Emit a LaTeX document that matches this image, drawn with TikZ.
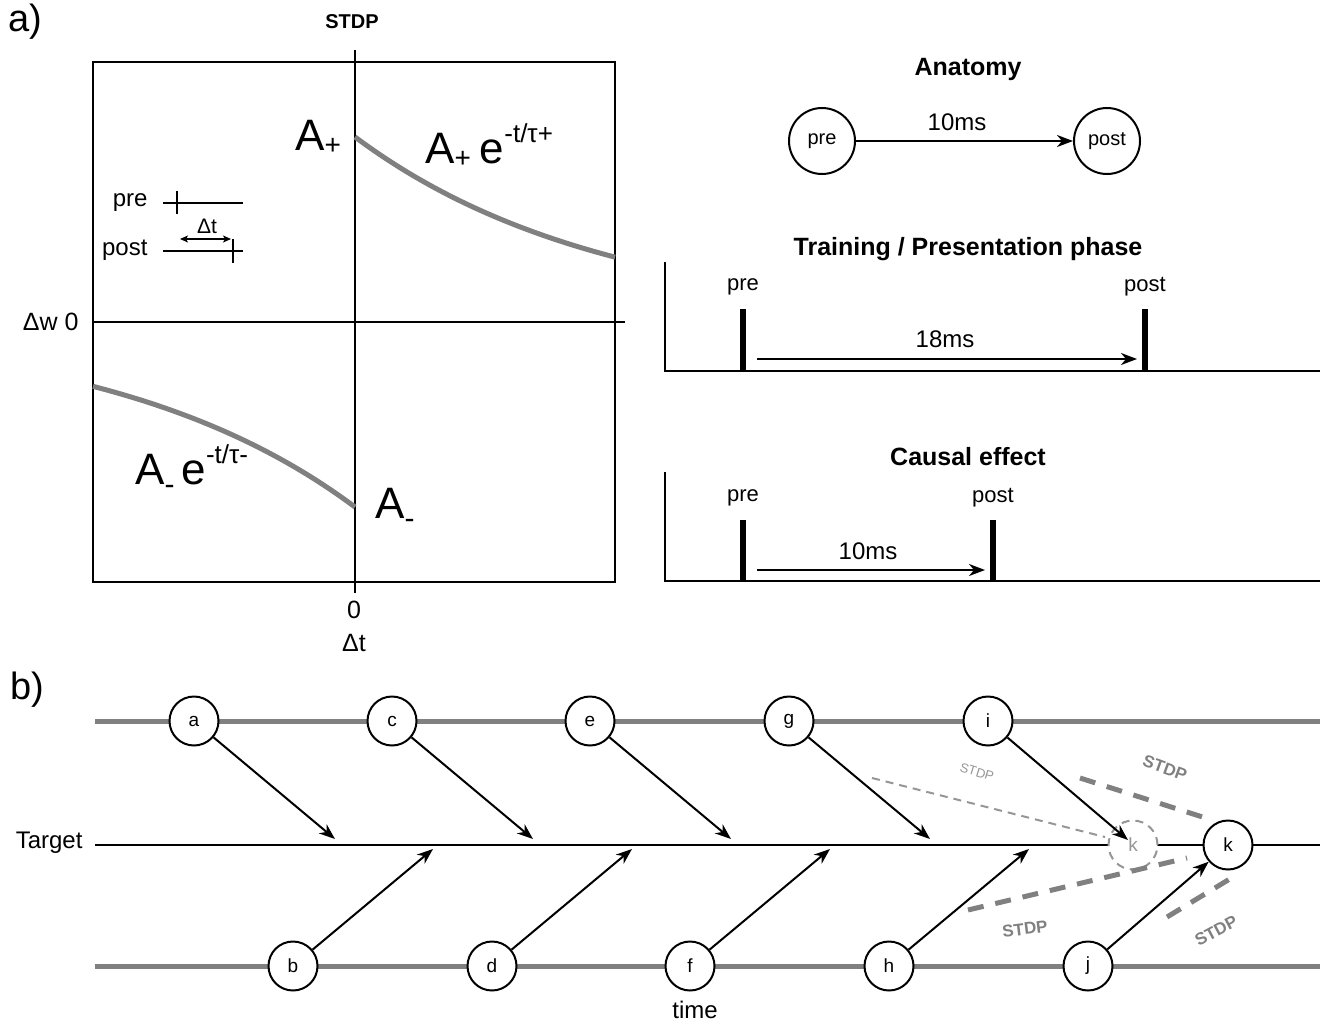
\documentclass[tikz,border=0pt]{standalone}
\usepackage{fontspec}
\setmainfont{Liberation Sans}
\usetikzlibrary{arrows.meta}
\newcommand\fsz[1]{\fontsize{#1}{#1}\selectfont}
\definecolor{gline}{RGB}{128,128,128}
\definecolor{glight}{RGB}{150,150,150}
\begin{document}
\begin{tikzpicture}[x=1pt,y=-1pt,
  axisline/.style={line width=2.2pt},
  gcurve/.style={line width=5pt,draw=gline},
  arr/.style={-{Stealth[length=16pt,width=12pt,inset=5pt]},line width=2pt},
  darr/.style={{Stealth[length=8pt,width=7pt,inset=2pt]}-{Stealth[length=8pt,width=7pt,inset=2pt]},line width=1.5pt},
  ttl/.style={font=\bfseries\fsz{25}},
  lbl/.style={font=\fsz{22}},
  neuron/.style={circle,draw,line width=2pt,minimum size=49pt,inner sep=0pt,fill=white,font=\fsz{19}},
  bigneuron/.style={circle,draw,line width=2pt,minimum size=66pt,inner sep=0pt,fill=white,font=\fsz{20}},
  bar/.style={line width=6pt},
  gthick/.style={line width=5pt,draw=gline},
  thickdash/.style={line width=5pt,draw=gline,dash pattern=on 16pt off 12pt},
  thindash/.style={line width=2pt,draw=glight,dash pattern=on 8pt off 6pt},
  stdpbig/.style={font=\bfseries\fsz{17},text=gline,inner sep=1pt},
  stdpsmall/.style={font=\fsz{13},text=glight,inner sep=1pt},
  albl/.style={anchor=base west,inner sep=0pt,font=\fsz{44}}
]
\useasboundingbox (0,0) rectangle (1321,1025);

% ---------- a) STDP plot
\node[font=\fsz{38}] (la) at (25,22) {a)};
\node[font=\bfseries\fsz{20}] (tstdp) at (352,22) {STDP};
\draw[axisline] (93,62) rectangle (615,582);
\draw[axisline] (355,50) -- (355,593);
\draw[axisline] (93,322) -- (625,322);
\draw[gcurve] plot[domain=0:260,samples=60] ({355+\x},{322-185*exp(-\x/248)});
\draw[gcurve] plot[domain=0:262,samples=60] ({355-\x},{322+185*exp(-\x/248)});
\node[anchor=east,font=\fsz{25}] (dw) at (82,322) {Δw 0};
\node[font=\fsz{25}] (zero) at (354,610) {0};
\node[font=\fsz{25}] (dt) at (354,643) {Δt};

\node[albl] (ap) at (295,150) {A\raisebox{-4pt}{\fsz{28}+}};
\node[albl] (ape) at (425,163) {A\raisebox{-4pt}{\fsz{28}+}\hspace{9pt}e\raisebox{21pt}{\fsz{26}-t/τ+}};
\node[albl] (ame) at (135,484) {A\raisebox{-10pt}{\fsz{30}-}\hspace{7pt}e\raisebox{21pt}{\fsz{26}-t/τ-}};
\node[albl] (am) at (375,518) {A\raisebox{-10pt}{\fsz{30}-}};

% inset
\node[anchor=east,font=\fsz{24}] (ipre) at (151,203) {pre};
\node[anchor=east,font=\fsz{24}] (ipost) at (151,250) {post};
\draw[line width=1.8pt] (163,203) -- (243,203);
\draw[line width=1.8pt] (177,191) -- (177,214);
\draw[line width=1.8pt] (163,251) -- (243,251);
\draw[line width=1.8pt] (233,239) -- (233,263);
\draw[darr] (180,239) -- (231,239);
\node[font=\fsz{21}] (idt) at (207,226) {Δt};

% ---------- Anatomy
\node[ttl] (tana) at (968,69) {Anatomy};
\node[bigneuron] (pre) at (822,141) {pre};
\node[bigneuron] (post) at (1107,141) {post};
\draw[arr] (pre) -- (post);
\node[font=\fsz{24}] (l10a) at (957,122) {10ms};

% ---------- Training
\node[ttl] (ttrain) at (968,249) {Training / Presentation phase};
\draw[axisline] (665,262) -- (665,371) -- (1320,371);
\draw[bar] (743,309) -- (743,372);
\draw[bar] (1145,309) -- (1145,372);
\node[lbl] (tpre) at (743,287) {pre};
\node[lbl] (tpost) at (1145,287) {post};
\coordinate (ts) at (757,359);
\coordinate (te) at (1137,359);
\draw[arr] (ts) -- (te);
\node[font=\fsz{24}] (l18) at (945,339) {18ms};

% ---------- Causal effect
\node[ttl] (tcaus) at (968,457) {Causal effect};
\draw[axisline] (665,472) -- (665,581) -- (1320,581);
\draw[bar] (743,520) -- (743,582);
\draw[bar] (993,520) -- (993,582);
\node[lbl] (cpre) at (743,498) {pre};
\node[lbl] (cpost) at (993,498) {post};
\coordinate (cs) at (757,570);
\coordinate (ce) at (985,570);
\draw[arr] (cs) -- (ce);
\node[font=\fsz{24}] (l10c) at (868,551) {10ms};

% ---------- b)
\node[font=\fsz{38}] (lb) at (27,690) {b)};
\draw[gthick] (95,721) -- (1320,721);
\draw[axisline] (95,845) -- (1320,845);
\draw[gthick] (95,966) -- (1320,966);
\node[anchor=east,font=\fsz{24}] (ttarget) at (86,843) {Target};
\node[font=\fsz{24}] (ttime) at (695,1010) {time};

\foreach \n/\x in {a/194,c/392,e/590,g/789,i/988}{
  \node[neuron] (\n) at (\x,721) {\n};
}
\foreach \n/\x in {b/293,d/492,f/690,h/889,j/1088}{
  \node[neuron] (\n) at (\x,966) {\n};
}
\node[neuron,draw=glight,dashed,dash pattern=on 8pt off 6pt,text=glight] (kd) at (1133,845) {k};
\node[neuron] (k) at (1228,845) {k};

% arrows to target line
\foreach \n/\x in {a/194,c/392,e/590,g/789}{
  \coordinate (t\n) at ({\x+141},839);
  \draw[arr] (\n) -- (t\n);
}
\foreach \n/\x in {b/293,d/492,f/690,h/889}{
  \coordinate (t\n) at ({\x+140},849);
  \draw[arr] (\n) -- (t\n);
}
\coordinate (ti) at (1128,840);
\draw[arr] (i) -- (ti);
\draw[arr] (j) -- (k);

% STDP dashed links
\coordinate (s1a) at (872,778); \coordinate (s1b) at (1105,837);
\draw[thindash] (s1a) -- (s1b);
\coordinate (s2a) at (1080,778); \coordinate (s2b) at (1212,820);
\draw[thickdash] (s2a) -- (s2b);
\coordinate (s3a) at (968,910); \coordinate (s3b) at (1187,858);
\draw[thickdash] (s3a) -- (s3b);
\coordinate (s4a) at (1167,917); \coordinate (s4b) at (1233,877);
\draw[thickdash] (s4a) -- (s4b);

\node[stdpsmall,rotate=-17] (st1) at (977,772) {STDP};
\node[stdpbig,rotate=-20] (st2) at (1165,768) {STDP};
\node[stdpbig,rotate=7] (st3) at (1025,929) {STDP};
\node[stdpbig,rotate=28] (st4) at (1216,931) {STDP};
\end{tikzpicture}
\end{document}
